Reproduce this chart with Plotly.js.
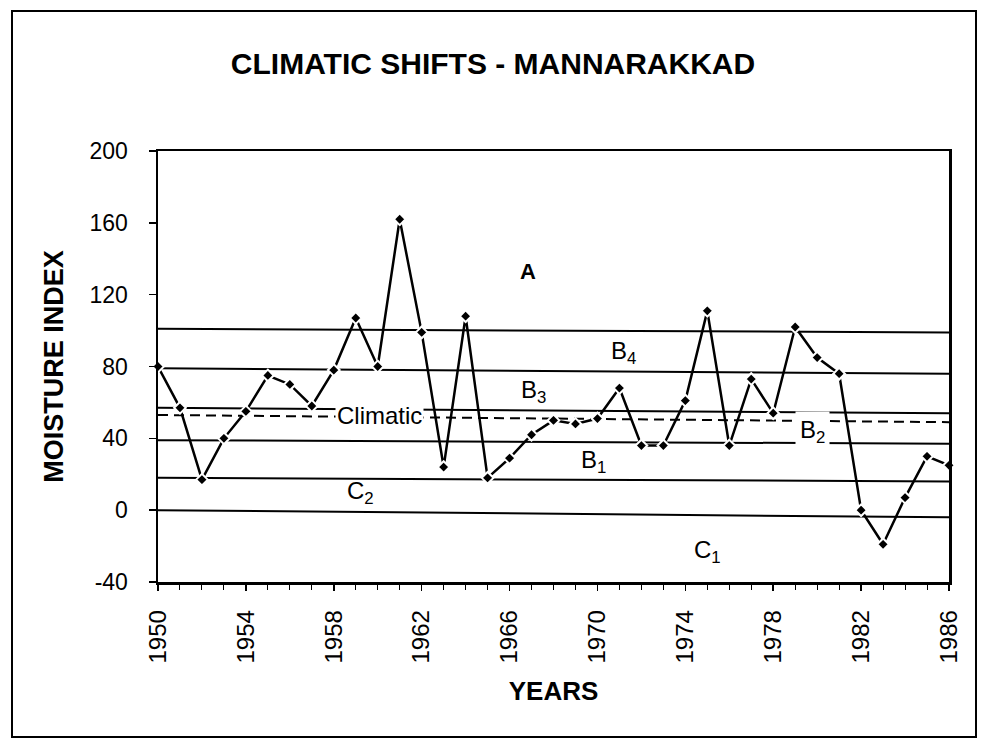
<!DOCTYPE html>
<html>
<head>
<meta charset="utf-8">
<script src="https://cdn.plot.ly/plotly-3.0.1.min.js"></script>
<style>html,body{margin:0;padding:0;background:#fff;}#chart{width:988px;height:740px;}</style>
</head>
<body>
<div id="chart"></div>
<script>
// ---- data ----
const years = [1950,1951,1952,1953,1954,1955,1956,1957,1958,1959,1960,1961,1962,1963,1964,1965,1966,1967,1968,1969,1970,1971,1972,1973,1974,1975,1976,1977,1978,1979,1980,1981,1982,1983,1984,1985,1986];
const moistureIndex = [80,57,17,40,55,75,70,58,78,107,80,162,99,24,108,18,29,42,50,48,51,68,36,36,61,111,36,73,54,102,85,76,0,-19,7,30,25];
// climatic-zone boundary lines (value at 1950, value at 1986), as drawn
const boundaryStart = [101, 79, 57, 39, 18, 0];
const boundaryEnd   = [99, 76, 54, 37, 16, -4];
// climatic (mean) line
const climaticStart = 53;
const climaticEnd = 49;
const xTickYears = [1950,1954,1958,1962,1966,1970,1974,1978,1982,1986];
const yTickVals = [-40,0,40,80,120,160,200];
const yTickText = ['-40','0','40','80','120','160','200'];

const FONT = 'Arial, "Liberation Sans", sans-serif';
const x0 = years[0], x1 = years[years.length-1];

const traces = [];
boundaryStart.forEach((v, i) => {
  traces.push({x:[x0, x1], y:[v, boundaryEnd[i]], mode:'lines', type:'scatter',
    line:{color:'#000', width:2}, hoverinfo:'skip', showlegend:false});
});
traces.push({x:[x0, x1], y:[climaticStart, climaticEnd], mode:'lines', type:'scatter',
  line:{color:'#000', width:2, dash:'10px,6px'}, hoverinfo:'skip', showlegend:false});
traces.push({x:years, y:moistureIndex, mode:'lines+markers', type:'scatter',
  line:{color:'#000', width:2.5},
  marker:{symbol:'diamond', size:9, color:'#000', line:{color:'#fff', width:2}},
  cliponaxis:false, showlegend:false});

function lab(text, x, y, size, bg, pad){
  return {text:text, x:x, y:y, xref:'x', yref:'y', showarrow:false,
    font:{family:FONT, size:size, color:'#000'}, bgcolor: bg ? '#fff' : 'rgba(0,0,0,0)',
    borderpad: pad || 1};
}

const layout = {
  width:988, height:740,
  margin:{l:158, r:39, t:151, b:158},
  paper_bgcolor:'#fff', plot_bgcolor:'#fff',
  font:{family:FONT, color:'#000'},
  title:{text:'<b>CLIMATIC SHIFTS - MANNARAKKAD</b>', x:0.499, xref:'container', xanchor:'center',
    y:1-63/740, yref:'container', yanchor:'middle', font:{family:FONT, size:30, color:'#000'}},
  xaxis:{range:[x0, x1], tickvals:xTickYears, ticktext:xTickYears.map(String), tickangle:-90,
    ticks:'outside', ticklen:6, tickwidth:1.5, tickcolor:'#000',
    minor:{dtick:1, ticks:'outside', ticklen:5, tickwidth:1, tickcolor:'#000'},
    showline:true, linewidth:2.5, linecolor:'#000', mirror:true, showgrid:false, zeroline:false,
    tickfont:{family:FONT, size:24, color:'#000'}, ticklabelstandoff:10,
    title:{text:'<b>YEARS</b>', font:{family:FONT, size:26, color:'#000'}, standoff:20}},
  yaxis:{range:[-40, 200], tickvals:yTickVals, ticktext:yTickText, ticks:'outside', ticklen:7, tickwidth:1.5, tickcolor:'#000',
    showline:true, linewidth:2.5, linecolor:'#000', mirror:true, showgrid:false, zeroline:false,
    tickfont:{family:FONT, size:23, color:'#000'}, ticklabelstandoff:16,
    title:{text:'<b>MOISTURE INDEX</b>', font:{family:FONT, size:27, color:'#000'}, standoff:18}},
  annotations:[
    lab('<b>A</b>', 1966.85, 133, 22),
    lab('B<sub>4</sub>', 1971.2, 88, 24),
    lab('B<sub>3</sub>', 1967.1, 66, 24),
    lab('Climatic', 1960.1, 52.5, 24, true, 1),
    lab('B<sub>2</sub>', 1979.8, 44, 24, true, 4),
    lab('B<sub>1</sub>', 1969.8, 27, 24),
    lab('C<sub>2</sub>', 1959.2, 10, 24),
    lab('C<sub>1</sub>', 1975.0, -23, 24)
  ],
  shapes:[{type:'rect', xref:'paper', yref:'paper',
    x0:(12-158)/791, x1:(976-158)/791, y0:(582-737)/431, y1:(582-11)/431,
    line:{color:'#000', width:2}, fillcolor:'rgba(0,0,0,0)', layer:'below'}]
};

Plotly.newPlot('chart', traces, layout, {displayModeBar:false, staticPlot:true});
</script>
</body>
</html>
